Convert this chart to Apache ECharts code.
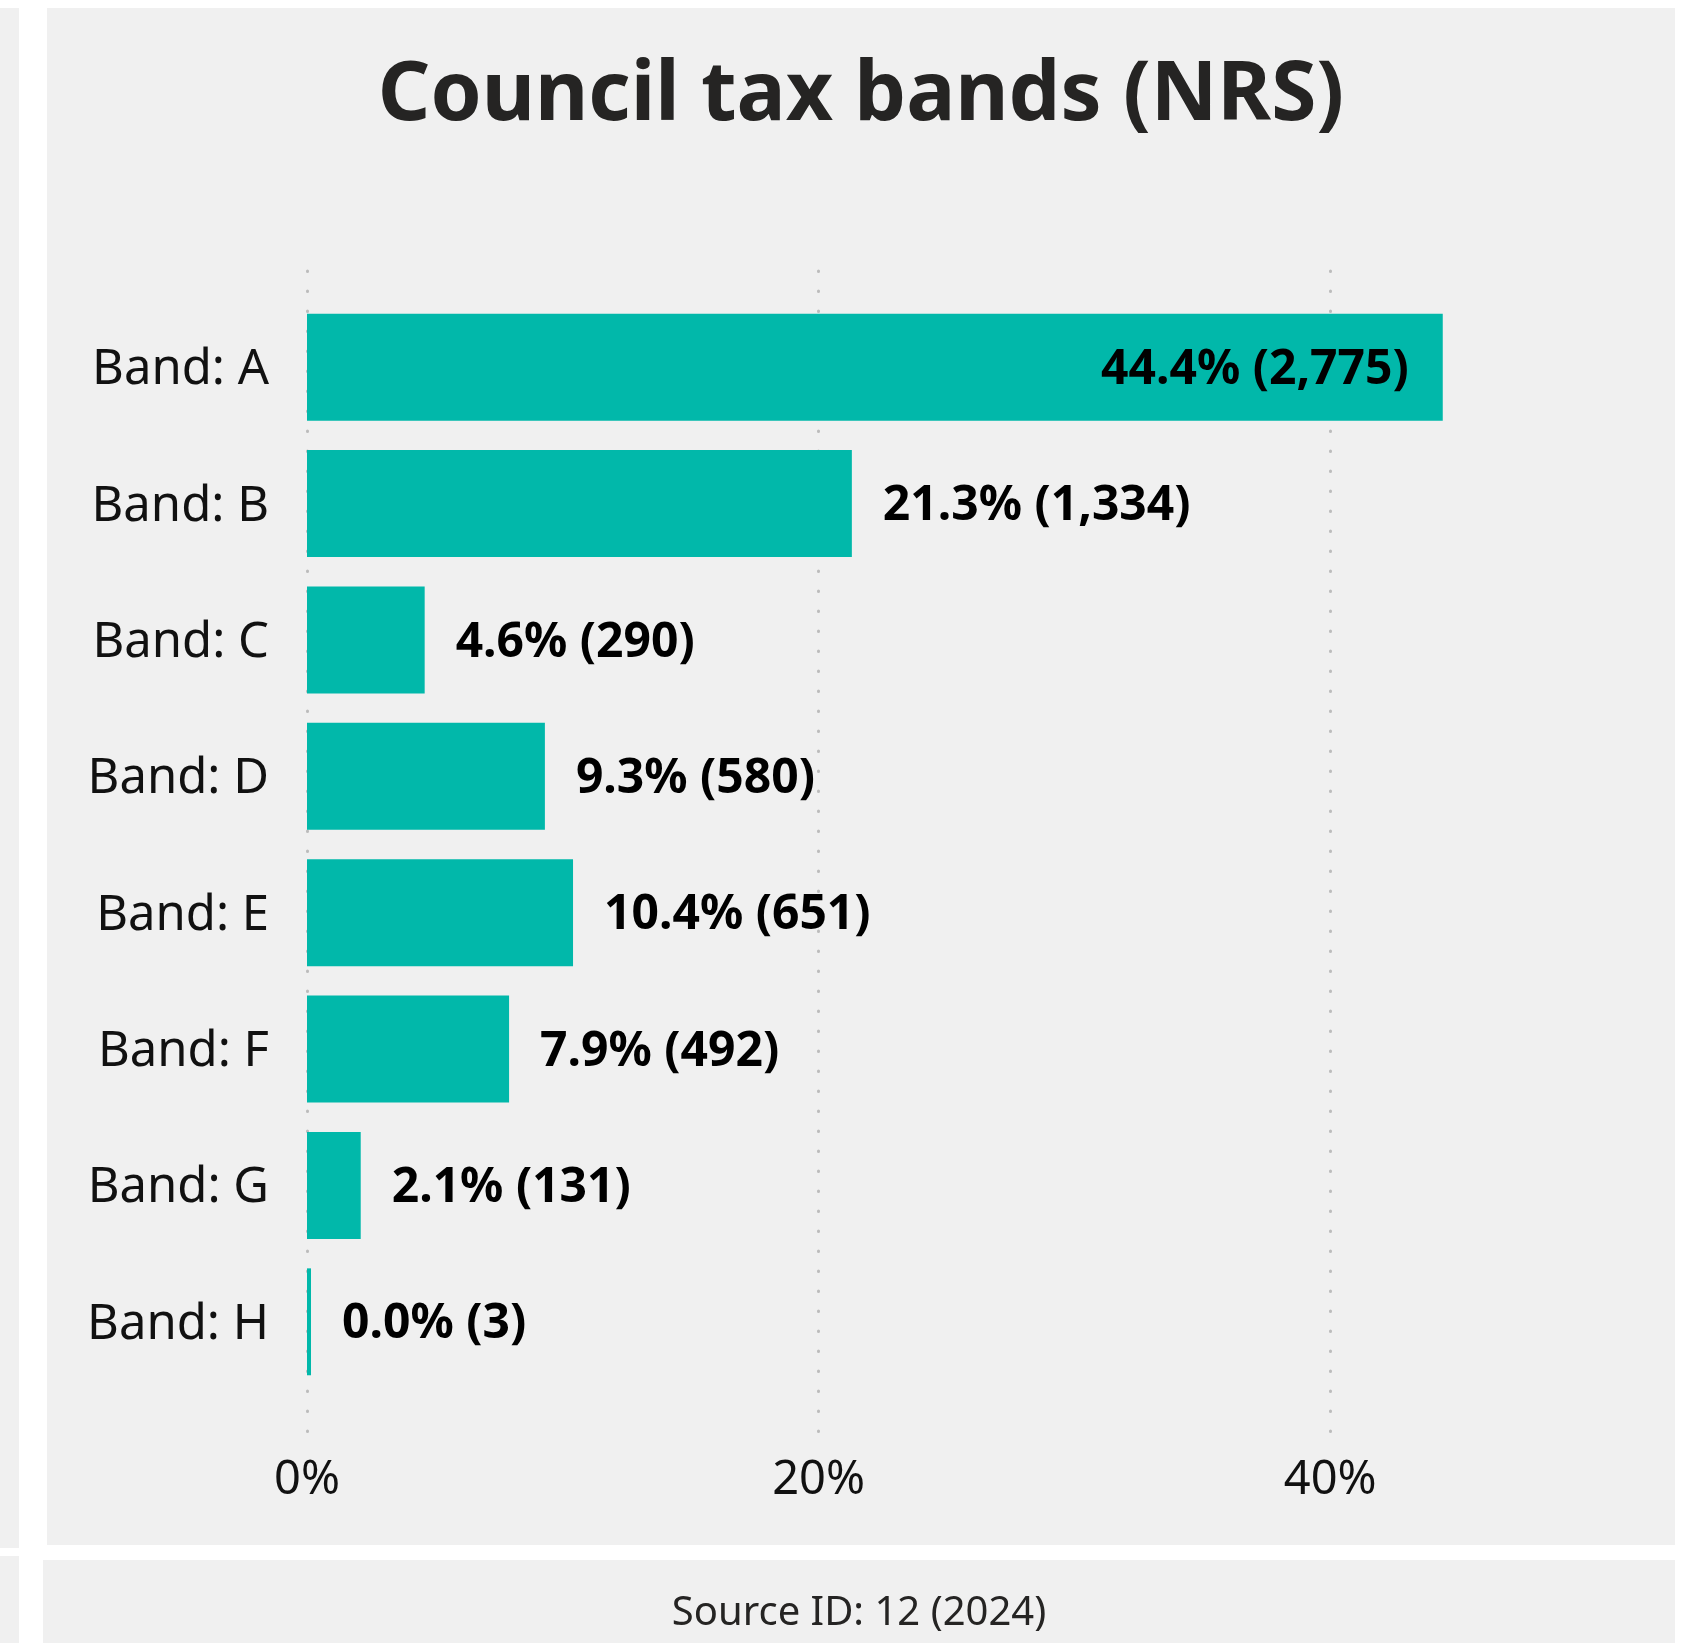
<!DOCTYPE html>
<html>
<head>
<meta charset="utf-8">
<title>Council tax bands (NRS)</title>
<script src="https://cdn.jsdelivr.net/npm/echarts@6/dist/echarts.min.js"></script>
<style>
  html, body { margin: 0; padding: 0; background: #ffffff; }
  #chart { width: 1689px; height: 1643px; }
</style>
</head>
<body>
<div id="chart"></div>
<script>
// Council tax band distribution
const bands  = ['Band: A', 'Band: B', 'Band: C', 'Band: D', 'Band: E', 'Band: F', 'Band: G', 'Band: H'];
const shares = [44.4, 21.3, 4.6, 9.3, 10.4, 7.9, 2.1, 0.0];   // % of dwellings
const counts = [2775, 1334, 290, 580, 651, 492, 131, 3];      // number of dwellings
const xTicks = [0, 20, 40];                                   // labelled percentage ticks

const FONT = '"Noto Sans", "Segoe UI", sans-serif';
const TEAL = '#01b8aa';
const PANEL = '#f0f0f0';

const plotLeft = 307;
const plotWidth = 1279;
const xMax = 50;

const chart = echarts.init(document.getElementById('chart'), null, { renderer: 'canvas' });

const barData = shares.map((v, i) => {
  const item = { value: v };
  // long bars carry their label inside the bar end
  if (v > 40) {
    item.label = { position: 'insideRight', distance: 34 };
  }
  return item;
});

chart.setOption({
  backgroundColor: 'transparent',
  animation: false,
  graphic: [
    { type: 'rect', z: -100, shape: { x: 0, y: 8, width: 19, height: 1540 }, style: { fill: PANEL } },
    { type: 'rect', z: -100, shape: { x: 0, y: 1556, width: 19, height: 87 }, style: { fill: PANEL } },
    { type: 'rect', z: -100, shape: { x: 47, y: 8, width: 1628, height: 1537 }, style: { fill: PANEL } },
    { type: 'rect', z: -100, shape: { x: 43, y: 1560, width: 1632, height: 83 }, style: { fill: PANEL } },
    {
      type: 'text', x: 861, y: 97,
      style: {
        text: 'Council tax bands (NRS)',
        font: 'bold 82px ' + FONT,
        fill: '#252423',
        textAlign: 'center',
        textVerticalAlign: 'middle'
      }
    },
    {
      type: 'text', x: 859, y: 1614,
      style: {
        text: 'Source ID: 12 (2024)',
        font: '40px ' + FONT,
        fill: '#252423',
        textAlign: 'center',
        textVerticalAlign: 'middle'
      }
    }
  ],
  grid: [
    // gridline / tick-label layer
    { left: plotLeft, width: plotWidth, top: 271, height: 1162 },
    // bar layer
    { left: plotLeft, width: plotWidth, top: 299, height: 1091 }
  ],
  xAxis: [
    {
      gridIndex: 0,
      type: 'value',
      min: 0,
      max: xMax,
      interval: xTicks[1] - xTicks[0],
      axisLine: { show: false },
      axisTick: { show: false },
      axisLabel: {
        formatter: v => (xTicks.indexOf(v) >= 0 ? v + '%' : ''),
        showMaxLabel: false,
        margin: 24,
        fontSize: 47,
        fontFamily: FONT,
        color: '#111111'
      },
      splitLine: {
        show: true,
        showMaxLine: false,
        lineStyle: { color: '#bcbcbc', width: 3, type: [0.5, 19.5], cap: 'round' }
      }
    },
    {
      gridIndex: 1,
      type: 'value',
      min: 0,
      max: xMax,
      show: false
    }
  ],
  yAxis: [
    { gridIndex: 0, type: 'value', show: false, splitLine: { show: false } },
    {
      gridIndex: 1,
      type: 'category',
      data: bands,
      inverse: true,
      axisLine: { show: false },
      axisTick: { show: false },
      splitLine: { show: false },
      axisLabel: {
        margin: 38,
        formatter: v => '{b|' + v + '}',
        rich: {
          b: {
            fontSize: 49,
            fontFamily: FONT,
            color: '#111111',
            padding: [6, 0, 0, 0]
          }
        }
      }
    }
  ],
  series: [
    {
      type: 'bar',
      xAxisIndex: 1,
      yAxisIndex: 1,
      data: barData,
      barCategoryGap: '21.6%',
      barMinHeight: 4,
      itemStyle: { color: TEAL },
      label: {
        show: true,
        position: 'right',
        distance: 31,
        offset: [0, 3],
        fontSize: 48,
        fontWeight: 'bold',
        fontFamily: FONT,
        color: '#000000',
        formatter: p => shares[p.dataIndex].toFixed(1) + '% (' + counts[p.dataIndex].toLocaleString('en-US') + ')'
      }
    }
  ]
});
</script>
</body>
</html>
